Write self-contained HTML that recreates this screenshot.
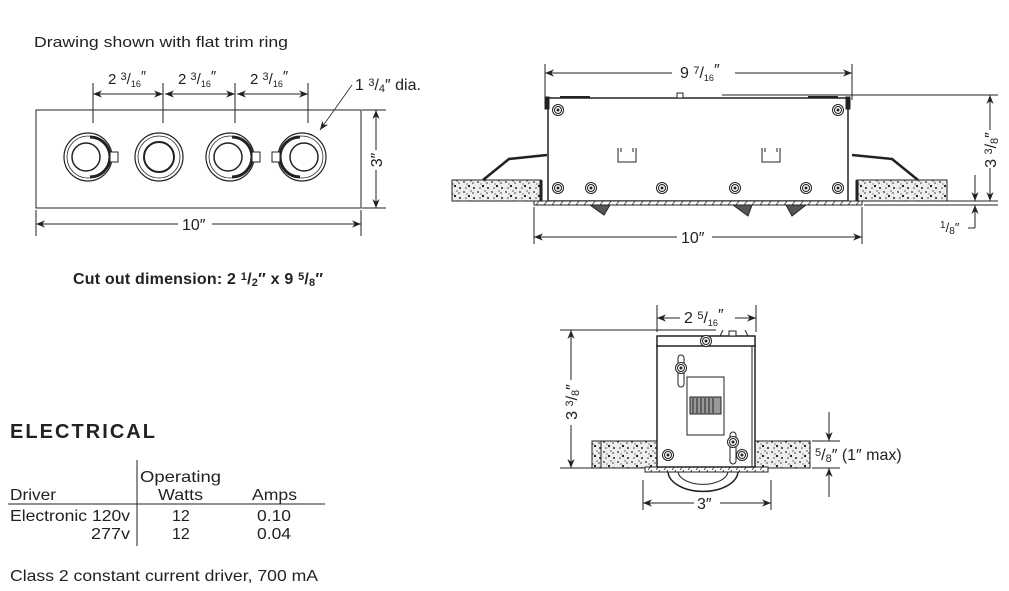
<!DOCTYPE html>
<html><head><meta charset="utf-8"><style>
html,body{margin:0;padding:0;background:#fff;}
svg{display:block;font-family:"Liberation Sans",sans-serif;}
</style></head><body>
<svg width="1009" height="591" viewBox="0 0 1009 591" xmlns="http://www.w3.org/2000/svg">
<defs>
<marker id="a" viewBox="0 0 10 10" refX="10" refY="5" markerWidth="9" markerHeight="9" orient="auto-start-reverse" markerUnits="userSpaceOnUse"><path d="M0,1 L10,5 L0,9 L3,5z" fill="#222"/></marker>
<pattern id="foam" width="14" height="10" patternUnits="userSpaceOnUse">
<rect width="14" height="10" fill="#eee"/>
<circle cx="2" cy="2" r="0.9" fill="#222"/><circle cx="7" cy="6" r="1.1" fill="#111"/><circle cx="11" cy="3" r="0.8" fill="#333"/><circle cx="4" cy="8" r="0.8" fill="#444"/><circle cx="12" cy="8" r="1" fill="#222"/><circle cx="9" cy="1" r="0.7" fill="#444"/><circle cx="5" cy="4" r="0.6" fill="#333"/>
</pattern>
<pattern id="hatch" width="8" height="5" patternUnits="userSpaceOnUse"><rect width="8" height="5" fill="#fff"/><line x1="0" y1="5" x2="4" y2="0" stroke="#333" stroke-width="0.8"/></pattern>
<g id="screw"><circle r="5.5" fill="#fff" stroke="#222" stroke-width="1"/><circle r="3.5" fill="none" stroke="#222" stroke-width="1"/><circle r="1.5" fill="#222"/></g>
</defs>
<g fill="#222" stroke="none">
<text x="34" y="47" font-size="15" textLength="254" lengthAdjust="spacingAndGlyphs">Drawing shown with flat trim ring</text>
</g>
<!-- top plan view -->
<g stroke="#222" stroke-width="1" fill="none">
<rect x="36" y="110" width="325" height="98"/>
<line x1="93" y1="83" x2="93" y2="123"/><line x1="163" y1="83" x2="163" y2="123"/><line x1="235" y1="83" x2="235" y2="123"/><line x1="308" y1="83" x2="308" y2="123"/>
<line x1="93" y1="94" x2="163" y2="94" marker-start="url(#a)" marker-end="url(#a)"/>
<line x1="165" y1="94" x2="235" y2="94" marker-start="url(#a)" marker-end="url(#a)"/>
<line x1="237" y1="94" x2="308" y2="94" marker-start="url(#a)" marker-end="url(#a)"/>
<line x1="352" y1="85" x2="320" y2="130" marker-end="url(#a)" stroke-width="0.8"/>
<line x1="362" y1="110" x2="386" y2="110"/><line x1="362" y1="208" x2="386" y2="208"/>
<line x1="376" y1="110" x2="376" y2="150" marker-start="url(#a)"/><line x1="376" y1="170" x2="376" y2="208" marker-end="url(#a)"/>
<line x1="36" y1="210" x2="36" y2="236"/><line x1="361" y1="210" x2="361" y2="236"/>
<line x1="36" y1="224" x2="178" y2="224" marker-start="url(#a)"/><line x1="212" y1="224" x2="361" y2="224" marker-end="url(#a)"/>
</g>
<g stroke="#222" fill="#fff">
<g transform="translate(88,157)"><circle r="24" stroke-width="1.2"/><circle r="21" stroke-width="0.8"/><path d="M2,-20 A20,20 0 0 1 2,20" stroke-width="3" fill="none"/><circle cx="-2" r="14" stroke-width="1.5"/><rect x="22" y="-5" width="8" height="10" stroke-width="1"/></g>
<g transform="translate(159,157)"><circle r="24" stroke-width="1.2"/><circle r="21" stroke-width="0.8"/><circle r="15" stroke-width="2"/></g>
<g transform="translate(230,157)"><circle r="24" stroke-width="1.2"/><circle r="21" stroke-width="0.8"/><path d="M2,-20 A20,20 0 0 1 2,20" stroke-width="3" fill="none"/><circle cx="-2" r="14" stroke-width="1.5"/><rect x="22" y="-5" width="8" height="10" stroke-width="1"/></g>
<g transform="translate(302,157)"><circle r="24" stroke-width="1.2"/><circle r="21" stroke-width="0.8"/><path d="M-2,-20 A20,20 0 0 0 -2,20" stroke-width="3" fill="none"/><circle cx="2" r="14" stroke-width="1.5"/><rect x="-30" y="-5" width="8" height="10" stroke-width="1"/></g>
</g>
<g fill="#222" font-size="15">
<text x="108" y="84">2 <tspan font-size="11" dy="-4">3</tspan><tspan dy="4">/</tspan><tspan font-size="9" dy="3">16</tspan><tspan dy="-6">″</tspan></text>
<text x="178" y="84">2 <tspan font-size="11" dy="-4">3</tspan><tspan dy="4">/</tspan><tspan font-size="9" dy="3">16</tspan><tspan dy="-6">″</tspan></text>
<text x="250" y="84">2 <tspan font-size="11" dy="-4">3</tspan><tspan dy="4">/</tspan><tspan font-size="9" dy="3">16</tspan><tspan dy="-6">″</tspan></text>
<text x="355" y="90" font-size="16">1 <tspan font-size="11" dy="-4">3</tspan><tspan dy="4">/</tspan><tspan font-size="11" dy="2">4</tspan><tspan dy="-2">″ dia.</tspan></text>
<text x="182" y="230" font-size="16">10″</text>
<text transform="translate(382,160) rotate(-90)" text-anchor="middle" font-size="16">3″</text>
<text x="73" y="284" font-size="16" font-weight="bold" letter-spacing="0.2">Cut out dimension: 2 <tspan font-size="11" dy="-4">1</tspan><tspan dy="4">/</tspan><tspan font-size="11" dy="2">2</tspan><tspan dy="-2">″ x 9 </tspan><tspan font-size="11" dy="-4">5</tspan><tspan dy="4">/</tspan><tspan font-size="11" dy="2">8</tspan><tspan dy="-2">″</tspan></text>
</g>
<!-- side view -->
<g stroke="#222" stroke-width="1" fill="none">
<line x1="545" y1="64" x2="545" y2="100"/><line x1="852" y1="64" x2="852" y2="100"/>
<line x1="545" y1="73" x2="672" y2="73" marker-start="url(#a)"/><line x1="735" y1="73" x2="852" y2="73" marker-end="url(#a)"/>
<line x1="722" y1="95" x2="998" y2="95"/>
<line x1="862" y1="201" x2="998" y2="201"/><line x1="864" y1="205" x2="998" y2="205"/>
<line x1="990" y1="95" x2="990" y2="130" marker-start="url(#a)"/><line x1="990" y1="168" x2="990" y2="201" marker-end="url(#a)"/>
<line x1="975" y1="175" x2="975" y2="201" marker-end="url(#a)"/>
<path d="M975,228 L975,205" marker-end="url(#a)"/><line x1="975" y1="228" x2="968" y2="228"/>
<line x1="534" y1="207" x2="534" y2="244"/><line x1="862" y1="207" x2="862" y2="244"/>
<line x1="534" y1="237" x2="677" y2="237" marker-start="url(#a)"/><line x1="712" y1="237" x2="862" y2="237" marker-end="url(#a)"/>
</g>
<g stroke="#222" fill="#fff">
<rect x="452" y="180" width="89" height="21" fill="url(#foam)" stroke-width="1"/>
<rect x="857" y="180" width="90" height="21" fill="url(#foam)" stroke-width="1"/>
<line x1="541" y1="180" x2="541" y2="201" stroke-width="3"/><line x1="857" y1="180" x2="857" y2="201" stroke-width="3"/>
<path d="M483,180 L509,159 L547,155" fill="none" stroke-width="2.5"/>
<path d="M918,180 L892,159 L852,155" fill="none" stroke-width="2.5"/>
<rect x="548" y="98" width="300" height="103" stroke-width="1.5"/>
<rect x="545" y="97" width="4" height="12" fill="#222"/><rect x="846" y="97" width="4" height="12" fill="#222"/>
<line x1="560" y1="97" x2="590" y2="97" stroke-width="2"/><line x1="808" y1="97" x2="838" y2="97" stroke-width="2"/>
<rect x="677" y="93" width="6" height="5"/>
<rect x="534" y="201" width="328" height="4" fill="url(#hatch)" stroke-width="1"/>
<path d="M590,205 L610,205 L604,215 Z" fill="#555"/><path d="M733,205 L752,205 L748,216 Z" fill="#555"/><path d="M786,205 L806,205 L792,216 Z" fill="#555"/>
<path d="M618,148 v14 h18 v-14 M621,148 v4 M633,148 v4" fill="none"/>
<path d="M762,148 v14 h18 v-14 M765,148 v4 M777,148 v4" fill="none"/>
</g>
<use href="#screw" x="558" y="110"/><use href="#screw" x="838" y="110"/>
<use href="#screw" x="558" y="188"/><use href="#screw" x="591" y="188"/><use href="#screw" x="662" y="188"/><use href="#screw" x="735" y="188"/><use href="#screw" x="806" y="188"/><use href="#screw" x="838" y="188"/>
<g fill="#222" font-size="16">
<text x="680" y="78">9 <tspan font-size="11" dy="-4">7</tspan><tspan dy="4">/</tspan><tspan font-size="9" dy="3">16</tspan><tspan dy="-6">″</tspan></text>
<text x="681" y="243">10″</text>
<text transform="translate(996,150) rotate(-90)" text-anchor="middle">3 <tspan font-size="11" dy="-4">3</tspan><tspan dy="4">/</tspan><tspan font-size="11" dy="2">8</tspan><tspan dy="-2">″</tspan></text>
<text x="940" y="232" font-size="13"><tspan font-size="10" dy="-4">1</tspan><tspan dy="4">/</tspan><tspan font-size="10" dy="2">8</tspan><tspan dy="-2">″</tspan></text>
</g>
<!-- front view -->
<g stroke="#222" stroke-width="1" fill="none">
<line x1="657" y1="305" x2="657" y2="332"/><line x1="756" y1="305" x2="756" y2="332"/>
<line x1="657" y1="318" x2="680" y2="318" marker-start="url(#a)"/><line x1="735" y1="318" x2="756" y2="318" marker-end="url(#a)"/>
<line x1="560" y1="330" x2="716" y2="330"/><line x1="560" y1="468" x2="595" y2="468"/>
<line x1="571" y1="330" x2="571" y2="380" marker-start="url(#a)"/><line x1="571" y1="425" x2="571" y2="468" marker-end="url(#a)"/>
<line x1="643" y1="480" x2="643" y2="510"/><line x1="771" y1="480" x2="771" y2="510"/>
<line x1="643" y1="503" x2="694" y2="503" marker-start="url(#a)"/><line x1="720" y1="503" x2="771" y2="503" marker-end="url(#a)"/>
<line x1="812" y1="441" x2="840" y2="441"/><line x1="812" y1="468" x2="840" y2="468"/>
<line x1="829" y1="412" x2="829" y2="441" marker-end="url(#a)"/><line x1="829" y1="497" x2="829" y2="468" marker-end="url(#a)"/>
</g>
<g stroke="#222" fill="#fff">
<rect x="592" y="441" width="65" height="27" fill="url(#foam)"/>
<rect x="755" y="441" width="55" height="27" fill="url(#foam)"/>
<line x1="601" y1="441" x2="601" y2="468"/>
<path d="M668,471 A24,14 0 0 0 738,471" fill="none" stroke-width="1.5"/>
<path d="M678,471 A15,8 0 0 0 728,471" fill="none"/>
<rect x="645" y="467" width="123" height="5" fill="url(#hatch)"/>
<rect x="657" y="345" width="98" height="122" stroke-width="1.5"/>
<line x1="752" y1="345" x2="752" y2="467"/>
<rect x="657" y="336" width="98" height="10" stroke-width="1.5"/>
<path d="M720,336 l3,-6 M748,336 l-3,-6" fill="none"/><rect x="729" y="331" width="7" height="5"/>
<rect x="687" y="377" width="37" height="58"/>
<rect x="690" y="397" width="31" height="17" fill="#999"/>
<path d="M693,398 v15 M697,398 v15 M701,398 v15 M705,398 v15 M709,398 v15 M713,398 v15" stroke="#222"/>
<rect x="678" y="355" width="6" height="32" rx="3"/>
<rect x="730" y="432" width="6" height="32" rx="3"/>
</g>
<use href="#screw" x="706" y="341"/><use href="#screw" x="681" y="368"/><use href="#screw" x="733" y="442"/><use href="#screw" x="668" y="455"/><use href="#screw" x="742" y="455"/>
<g fill="#222" font-size="16">
<text x="684" y="323">2 <tspan font-size="11" dy="-4">5</tspan><tspan dy="4">/</tspan><tspan font-size="9" dy="3">16</tspan><tspan dy="-6">″</tspan></text>
<text x="697" y="509">3″</text>
<text transform="translate(577,402) rotate(-90)" text-anchor="middle">3 <tspan font-size="11" dy="-4">3</tspan><tspan dy="4">/</tspan><tspan font-size="11" dy="2">8</tspan><tspan dy="-2">″</tspan></text>
<text x="815" y="460"><tspan font-size="11" dy="-4">5</tspan><tspan dy="4">/</tspan><tspan font-size="11" dy="2">8</tspan><tspan dy="-2">″ (1″ max)</tspan></text>
</g>
<!-- electrical -->
<g fill="#222" font-size="16">
<text x="10" y="438" font-size="20" font-weight="bold" textLength="145" lengthAdjust="spacing">ELECTRICAL</text>
<text x="140" y="482" textLength="81" lengthAdjust="spacingAndGlyphs">Operating</text>
<text x="10" y="500" textLength="46" lengthAdjust="spacingAndGlyphs">Driver</text><text x="158" y="500" textLength="45" lengthAdjust="spacingAndGlyphs">Watts</text><text x="252" y="500" textLength="45" lengthAdjust="spacingAndGlyphs">Amps</text>
<text x="10" y="521" textLength="120" lengthAdjust="spacingAndGlyphs">Electronic 120v</text><text x="172" y="521">12</text><text x="257" y="521" textLength="34" lengthAdjust="spacingAndGlyphs">0.10</text>
<text x="91" y="539" textLength="39" lengthAdjust="spacingAndGlyphs">277v</text><text x="172" y="539">12</text><text x="257" y="539" textLength="34" lengthAdjust="spacingAndGlyphs">0.04</text>
<text x="10" y="581" textLength="308" lengthAdjust="spacingAndGlyphs">Class 2 constant current driver, 700 mA</text>
</g>
<g stroke="#222" stroke-width="1"><line x1="137" y1="460" x2="137" y2="546"/><line x1="8" y1="504" x2="325" y2="504"/></g>
</svg>
</body></html>
